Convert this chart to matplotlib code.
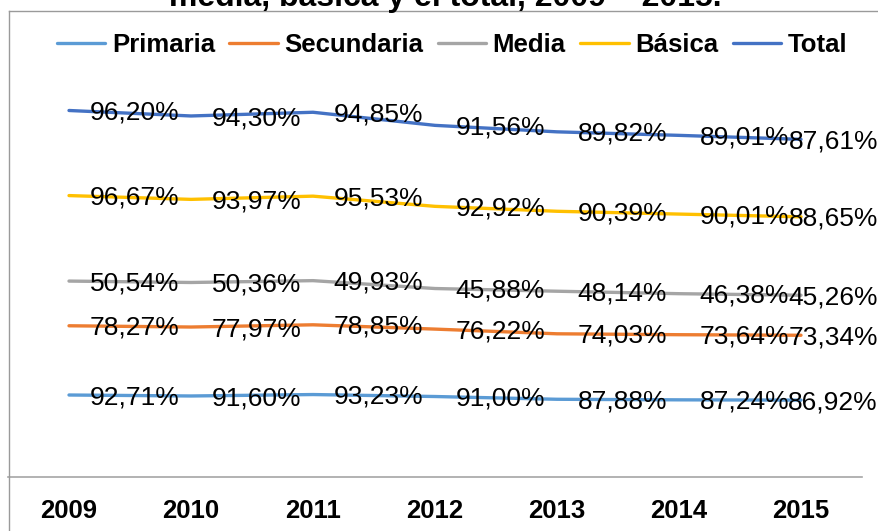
import matplotlib
matplotlib.use("Agg")
import matplotlib.pyplot as plt
import matplotlib.transforms as mtransforms
from matplotlib.lines import Line2D
import numpy as np

plt.rcParams['font.family'] = ['Liberation Sans', 'DejaVu Sans']

years = ['2009', '2010', '2011', '2012', '2013', '2014', '2015']
series_names = ['Primaria', 'Secundaria', 'Media', 'Básica', 'Total']
primaria = [92.71, 91.60, 93.23, 91.00, 87.88, 87.24, 86.92]
secundaria = [78.27, 77.97, 78.85, 76.22, 74.03, 73.64, 73.34]
media = [50.54, 50.36, 49.93, 45.88, 48.14, 46.38, 45.26]
basica = [96.67, 93.97, 95.53, 92.92, 90.39, 90.01, 88.65]
total = [96.20, 94.30, 94.85, 91.56, 89.82, 89.01, 87.61]
colors = ['#5B9BD5', '#ED7D31', '#A5A5A5', '#FFC000', '#4472C4']
title = 'Tasa de cobertura neta en primaria, secundaria,\nmedia, básica y el total, 2009 – 2015.'

W, H = 879, 531
fig = plt.figure(figsize=(W / 100, H / 100), dpi=100)

# chart area border (partly cropped): left and top edges only
fig.add_artist(Line2D([8.5 / W, 8.5 / W], [0, (H - 10.5) / H], transform=fig.transFigure,
                      color='#9A9A9A', linewidth=1.0))
fig.add_artist(Line2D([8.5 / W, 1.0], [(H - 10.5) / H, (H - 10.5) / H], transform=fig.transFigure,
                      color='#9A9A9A', linewidth=1.0))

ax = fig.add_axes([8 / W, (H - 477) / H, (862 - 8) / W, (477 - 79) / H])
x = np.arange(len(years))
data = [primaria, secundaria, media, basica, total]
cum = np.cumsum(np.array(data), axis=0)

tr_last = mtransforms.blended_transform_factory(fig.transFigure, ax.transData)
for vals, c_vals, name, col in zip(data, cum, series_names, colors):
    ax.plot(x, c_vals, color=col, linewidth=2.4, label=name, solid_capstyle='round')
    for i, (v, cv) in enumerate(zip(vals, c_vals)):
        txt = f"{v:.2f}%".replace('.', ',')
        if i < len(years) - 1:
            ax.annotate(txt, (x[i], cv), xytext=(15, -1.5), textcoords='offset points',
                        ha='left', va='center', fontsize=19, color='#000000')
        else:
            ax.annotate(txt, (878 / W, cv), xycoords=tr_last, xytext=(0, -1.5),
                        textcoords='offset points', ha='right', va='center',
                        fontsize=19, color='#000000', annotation_clip=False)
ax.set_xlim(-0.5, len(years) - 0.5)
ax.set_ylim(0, 450)
ax.set_xticks(x)
ax.set_xticklabels(years, fontsize=18.5, fontweight='bold')
ax.tick_params(axis='x', length=0, pad=16)
ax.set_yticks([])
for s in ['left', 'right', 'top']:
    ax.spines[s].set_visible(False)
ax.spines['bottom'].set_color('#A6A6A6')
ax.spines['bottom'].set_linewidth(1.2)
ax.patch.set_alpha(0)

fig.legend(loc='center', bbox_to_anchor=(452 / W, 1 - 45 / H), ncol=5, frameon=False,
           prop={'size': 18.5, 'weight': 'bold'}, handlelength=1.9, handletextpad=0.25,
           columnspacing=0.55)

fig.text(445 / W, 1 - 6 / H, title, ha='center', va='baseline', fontsize=23,
         fontweight='bold', linespacing=1.0)

fig.savefig('out.png', dpi=100)
